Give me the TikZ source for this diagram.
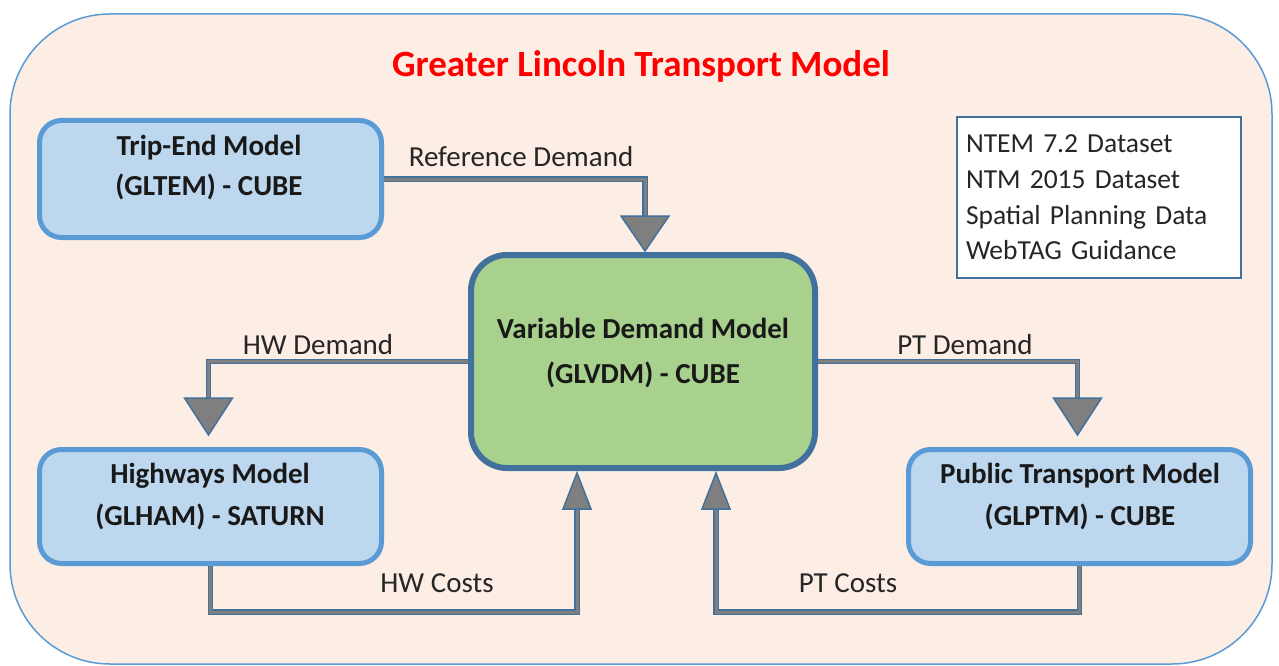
\documentclass[tikz,border=0pt]{standalone}
\usepackage{fontspec}
\setmainfont{Carlito}
\usetikzlibrary{calc}
\definecolor{framefill}{HTML}{FCEDE5}
\definecolor{frameline}{HTML}{5B9BD5}
\definecolor{boxfill}{HTML}{BDD7EE}
\definecolor{boxline}{HTML}{5B9BD5}
\definecolor{vdmfill}{HTML}{A9D18E}
\definecolor{darkline}{HTML}{41719C}
\definecolor{conngray}{HTML}{7F7F7F}
\definecolor{titlered}{HTML}{FF0000}
\tikzset{
  frame/.style={draw=frameline, fill=framefill, line width=1.5pt, rounded corners=100pt},
  bluebox/.style={draw=boxline, fill=boxfill, line width=5pt, rounded corners=22pt},
  greenbox/.style={draw=darkline, fill=vdmfill, line width=6pt, rounded corners=36pt},
  databox/.style={draw=darkline, fill=white, line width=1.5pt, align=left, inner sep=0pt},
  boxtext/.style={font=\bfseries\fontsize{29}{40}\selectfont, align=center, text=black!90},
  lbl/.style={font=\fontsize{29}{32}\selectfont, text=black!85},
  conn/.style={draw=darkline, line width=1.4pt, double=conngray, double distance=3pt},
  tipshape/.style={draw=darkline, fill=conngray, line width=1.5pt, line join=miter},
}
\begin{document}
\begin{tikzpicture}[x=1pt,y=-1pt]
\useasboundingbox (0,0) rectangle (1279,666);
\node[frame, minimum width=1262pt, minimum height=650pt] (frame) at (641,339) {};
\node[font=\bfseries\fontsize{37}{44}\selectfont, text=titlered] (title) at (641,66) {Greater Lincoln Transport Model};

\node[bluebox, minimum width=342pt, minimum height=117pt] (te) at (210.5,179) {};
\node[bluebox, minimum width=342pt, minimum height=114pt] (hw) at (210.5,506.5) {};
\node[bluebox, minimum width=342pt, minimum height=114pt] (pt) at (1079.5,506.5) {};
\node[greenbox, minimum width=344pt, minimum height=213pt] (vdm) at (643,361.5) {};

\node[boxtext] (tetext) at (209,167.5) {Trip-End Model\\(GLTEM) - CUBE};
\node[boxtext, font=\bfseries\fontsize{29}{42}\selectfont] (hwtext) at (210,497) {Highways Model\\(GLHAM) - SATURN};
\node[boxtext, font=\bfseries\fontsize{29}{42}\selectfont] (pttext) at (1080,497) {Public Transport Model\\(GLPTM) - CUBE};
\node[boxtext, font=\bfseries\fontsize{29}{45}\selectfont] (vdmtext) at (643,353.5) {Variable Demand Model\\(GLVDM) - CUBE};

\node[databox, minimum width=284pt, minimum height=161pt, text width=266pt,
      font=\fontsize{27.5}{35.7}\selectfont, text=black!85] (data) at (1099,197.5)
  {NTEM 7.2 Dataset\\NTM 2015 Dataset\\Spatial Planning Data\\WebTAG Guidance};

% Reference Demand
\draw[conn] (te.east) -| ([xshift=2pt,yshift=36pt]vdm.north) coordinate (refb);
\draw[tipshape] ([xshift=-24pt]refb) -- ([xshift=24pt]refb) -- ([xshift=2pt,yshift=1pt]vdm.north) -- cycle;
\node[lbl] (reflbl) at (521,157) {Reference Demand};

% HW Demand
\draw[conn] (vdm.west) -| ([xshift=-2pt,yshift=49pt]hw.north) coordinate (hwdb);
\draw[tipshape] ([xshift=-24pt]hwdb) -- ([xshift=24pt]hwdb) -- ([xshift=-2pt,yshift=12pt]hw.north) -- cycle;
\node[lbl] (hwdlbl) at (318,345) {HW Demand};

% PT Demand
\draw[conn] (vdm.east) -| ([xshift=-2pt,yshift=49pt]pt.north) coordinate (ptdb);
\draw[tipshape] ([xshift=-24pt]ptdb) -- ([xshift=24pt]ptdb) -- ([xshift=-2pt,yshift=12pt]pt.north) -- cycle;
\node[lbl] (ptdlbl) at (965,345) {PT Demand};

% HW Costs
\draw[conn] (hw.south) -- ++(0pt,-46pt) -| ([xshift=-66pt,yshift=-38pt]vdm.south) coordinate (hwcb);
\draw[tipshape] ([xshift=-14pt]hwcb) -- ([xshift=14pt]hwcb) -- ([xshift=-66pt,yshift=-2pt]vdm.south) -- cycle;
\node[lbl] (hwclbl) at (437,583) {HW Costs};

% PT Costs
\draw[conn] (pt.south) -- ++(0pt,-46pt) -| ([xshift=73pt,yshift=-38pt]vdm.south) coordinate (ptcb);
\draw[tipshape] ([xshift=-14pt]ptcb) -- ([xshift=14pt]ptcb) -- ([xshift=73pt,yshift=-2pt]vdm.south) -- cycle;
\node[lbl] (ptclbl) at (848,583) {PT Costs};
\end{tikzpicture}
\end{document}
